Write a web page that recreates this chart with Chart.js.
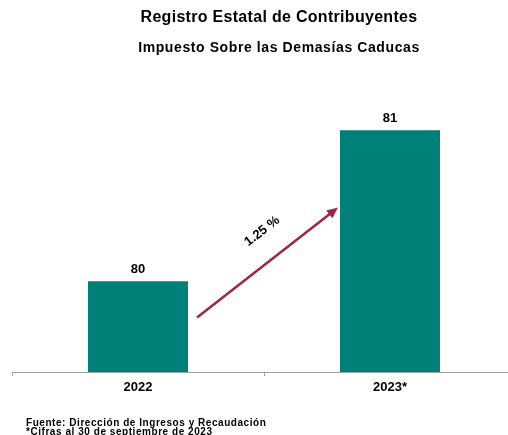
<!DOCTYPE html>
<html lang="es">

<head>
  <meta charset="UTF-8" />
  <script src="https://cdn.jsdelivr.net/npm/chart.js"></script>
  <title>Registro Estatal de Contribuyentes</title>
  <style>
    * {
      padding: 0;
      margin: 0;
    }

    html, body {
      background-color: #ffffff;
      width: 508px;
      height: 435px;
      overflow: hidden;
      font-family: "Liberation Sans", Arial, sans-serif;
      color: #000;
    }

    .wrap {
      position: relative;
      width: 508px;
      height: 435px;
      overflow: hidden;
    }

    .title {
      position: absolute;
      left: 50px;
      width: 458px;
      text-align: center;
      font-weight: bold;
      white-space: nowrap;
    }

    .foot {
      position: absolute;
      left: 26px;
      top: 418px;
      font-size: 10px;
      font-weight: bold;
      line-height: 9px;
      letter-spacing: 0.55px;
      white-space: nowrap;
    }
  </style>
</head>

<body>
  <div class="wrap">
    <canvas id="chart" width="516" height="435"></canvas>
    <div class="title" style="top:8px;font-size:16px;letter-spacing:0.3px;">Registro Estatal de Contribuyentes</div>
    <div class="title" style="top:39px;font-size:14px;letter-spacing:0.6px;">Impuesto Sobre las Demasías Caducas</div>
    <div class="foot">Fuente: Dirección de Ingresos y Recaudación<br>*Cifras al 30 de septiembre de 2023</div>
  </div>
</body>

<script>
  const years = ['2022', '2023*'];
  const contribuyentes = [80, 81];
  const variacion = '1.25 %';

  const barColor = '#008078';
  const arrowColor = '#9b2743';

  // Labels on top of bars + growth arrow between them
  const labelsPlugin = {
    id: 'labels',
    afterDatasetsDraw(chart) {
      const ctx = chart.ctx;
      const bars = chart.getDatasetMeta(0).data;
      const bottom = chart.scales.y.bottom;
      ctx.save();
      ctx.fillStyle = '#000';
      ctx.font = 'bold 13px "Liberation Sans", Arial, sans-serif';
      ctx.textAlign = 'center';
      ctx.textBaseline = 'bottom';
      bars.forEach((bar, i) => {
        ctx.fillText(contribuyentes[i], bar.x, bar.y - 5);
      });

      // arrow from first bar to second bar
      const b0 = bars[0], b1 = bars[1];
      const x0 = b0.x + b0.width / 2 + 9;
      const y0 = b0.y + 0.4 * (bottom - b0.y);
      const x1 = b1.x - b1.width / 2 - 2;
      const y1 = b1.y + 0.32 * (bottom - b1.y);
      const ang = Math.atan2(y1 - y0, x1 - x0);
      const c = Math.cos(ang), s = Math.sin(ang);
      ctx.strokeStyle = arrowColor;
      ctx.fillStyle = arrowColor;
      ctx.lineWidth = 2.5;
      ctx.beginPath();
      ctx.moveTo(x0, y0);
      ctx.lineTo(x1 - 8 * c, y1 - 8 * s);
      ctx.stroke();
      ctx.beginPath();
      ctx.moveTo(x1, y1);
      ctx.lineTo(x1 - 11 * c + 5 * s, y1 - 11 * s - 5 * c);
      ctx.lineTo(x1 - 11 * c - 5 * s, y1 - 11 * s + 5 * c);
      ctx.closePath();
      ctx.fill();

      // percentage text above the arrow
      const mx = (x0 + x1) / 2 + 15 * c + 28 * s;
      const my = (y0 + y1) / 2 + 15 * s - 28 * c;
      ctx.translate(mx, my);
      ctx.rotate(ang);
      ctx.fillStyle = '#000';
      ctx.font = 'bold 13px "Liberation Sans", Arial, sans-serif';
      ctx.textBaseline = 'middle';
      ctx.fillText(variacion, 0, 0);
      ctx.restore();
    }
  };

  new Chart(document.getElementById('chart'), {
    type: 'bar',
    data: {
      labels: years,
      datasets: [{
        data: contribuyentes,
        backgroundColor: barColor,
        barPercentage: 0.397,
        categoryPercentage: 1
      }]
    },
    plugins: [labelsPlugin],
    options: {
      responsive: false,
      animation: false,
      layout: {
        padding: { left: 12, right: 0, top: 100, bottom: 0 }
      },
      plugins: {
        legend: { display: false },
        tooltip: { enabled: false }
      },
      scales: {
        x: {
          afterFit: function(scale) { scale.height = 63; },
          border: { color: '#a0a0a0', width: 1 },
          grid: {
            offset: true,
            drawOnChartArea: false,
            tickLength: 4,
            color: '#a0a0a0'
          },
          ticks: {
            color: '#000',
            padding: 4,
            font: { family: '"Liberation Sans", Arial, sans-serif', size: 13, weight: 'bold' }
          }
        },
        y: {
          display: false,
          min: 79.4,
          max: 81.2
        }
      }
    }
  });
</script>

</html>
